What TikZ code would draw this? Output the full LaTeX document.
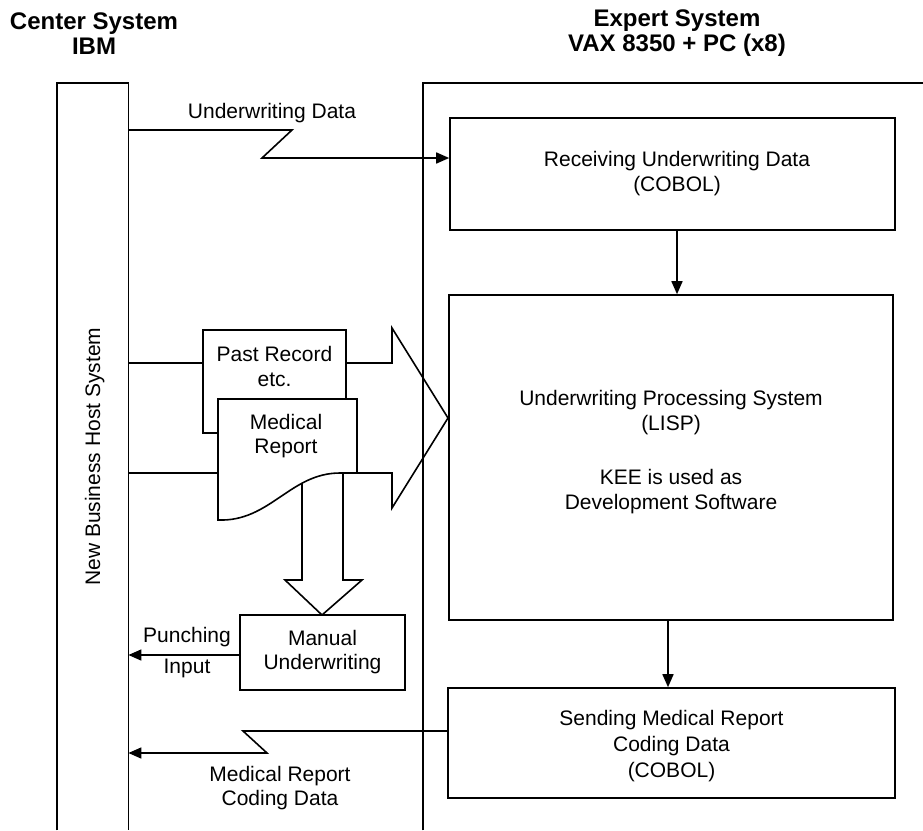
\documentclass[tikz,border=0pt]{standalone}
\usepackage{fontspec}
\setmainfont{Liberation Sans}
\usetikzlibrary{arrows.meta}
\begin{document}
\begin{tikzpicture}[x=1pt,y=-1pt,
  every node/.style={font=\fontsize{21}{25}\selectfont, align=center, inner sep=0pt},
  ln/.style={line width=1.6pt, line join=miter},
  arr/.style={ln, -{Triangle[length=13pt,width=11pt]}},
  box/.style={ln, draw, fill=white, rectangle},
  hdr/.style={font=\bfseries\fontsize{24}{25}\selectfont}]
\useasboundingbox (0,0) rectangle (923,830);

% headers
\node[hdr] (h1) at (94,33.5) {Center System\\IBM};
\node[hdr] (h2) at (677,33.5) {Expert System\\VAX 8350 + PC (x8)};

% host bar
\node[anchor=north west, minimum width=71pt, minimum height=747pt] (host) at (57,83) {};
\draw[ln] (host.south west) -- (host.north west) -- (host.north east) -- (host.south east);
\node[rotate=90] (hostlbl) at ([xshift=2pt]host.center) {New Business Host System};

% big arrows (right and down)
\draw[ln] (346,363) -- (392,363) -- (392,328) -- (448,418) -- (392,508) -- (392,473)
  -- (343,473) -- (343,580) -- (362,580) -- (322,615) -- (285,580) -- (302,580) -- (302,470);

% expert frame
\node[anchor=north west, minimum width=500pt, minimum height=747pt] (expert) at (423,83) {};
\draw[ln] (expert.south west) -- (expert.north west) -- (expert.north east);

% boxes
\node[box, minimum width=445pt, minimum height=112pt] (recv) at (672.5,174) {};
\node (recvtxt) at (677,173.5) {Receiving Underwriting Data\\(COBOL)};
\node[box, minimum width=444pt, minimum height=325pt] (ups) at (671,457.5) {};
\node (upstxt) at (671,452)
  {Underwriting Processing System\\(LISP)\\[29pt]KEE is used as\\Development Software};
\node[box, minimum width=447pt, minimum height=110pt] (send) at (671.5,743) {};
\node[font=\fontsize{21}{26}\selectfont] (sendtxt) at (671.5,746)
  {Sending Medical Report\\Coding Data\\(COBOL)};
\node[box, minimum width=165pt, minimum height=75pt] (manual) at (322.5,652.5) {};
\node[font=\fontsize{21}{24}\selectfont] (mantxt) at (322.5,652) {Manual\\Underwriting};

% documents
\node[box, minimum width=143pt, minimum height=103pt] (past) at (274.5,381.5) {};
\node (pasttxt) at (274.5,366) {Past Record\\etc.};
\draw[ln, fill=white] (218,520) -- (218,399) -- (357,399) -- (357,473) -- (340,473)
  .. controls (290,473) and (270,522) .. (218,520) -- cycle;
\node[font=\fontsize{21}{24}\selectfont] (medtxt) at (286,436.5) {Medical\\Report};

% lines from host to documents
\coordinate (pin) at (203,363);
\coordinate (medW) at (218,473);
\draw[ln] (host.east |- pin) -- (pin);
\draw[ln] (host.east |- medW) -- (medW);

% vertical arrows
\draw[arr] ([xshift=4.5pt]recv.south) -- ([xshift=6pt]ups.north);
\draw[arr] ([xshift=-3pt]ups.south) -- ([xshift=-3.5pt]send.north);

% underwriting data (zig)
\coordinate (u1) at (292,130);
\coordinate (u2) at (262,158);
\draw[arr] (host.east |- u1) -- (u1) -- (u2) -- (recv.west |- u2);
\node (ulbl) at (272,113) {Underwriting Data};

% medical report coding data (zig)
\coordinate (m1) at (243,731);
\coordinate (m2) at (267,753);
\draw[arr] (send.west |- m1) -- (m1) -- (m2) -- (host.east |- m2);
\node[font=\fontsize{21}{24}\selectfont] (mlbl) at (280,788) {Medical Report\\Coding Data};

% punching input
\coordinate (pstart) at ([yshift=-2.5pt]manual.west);
\draw[arr] (pstart) -- (host.east |- pstart);
\node (plbl) at (187,637) {Punching};
\node (ilbl) at (187,668) {Input};
\end{tikzpicture}
\end{document}
